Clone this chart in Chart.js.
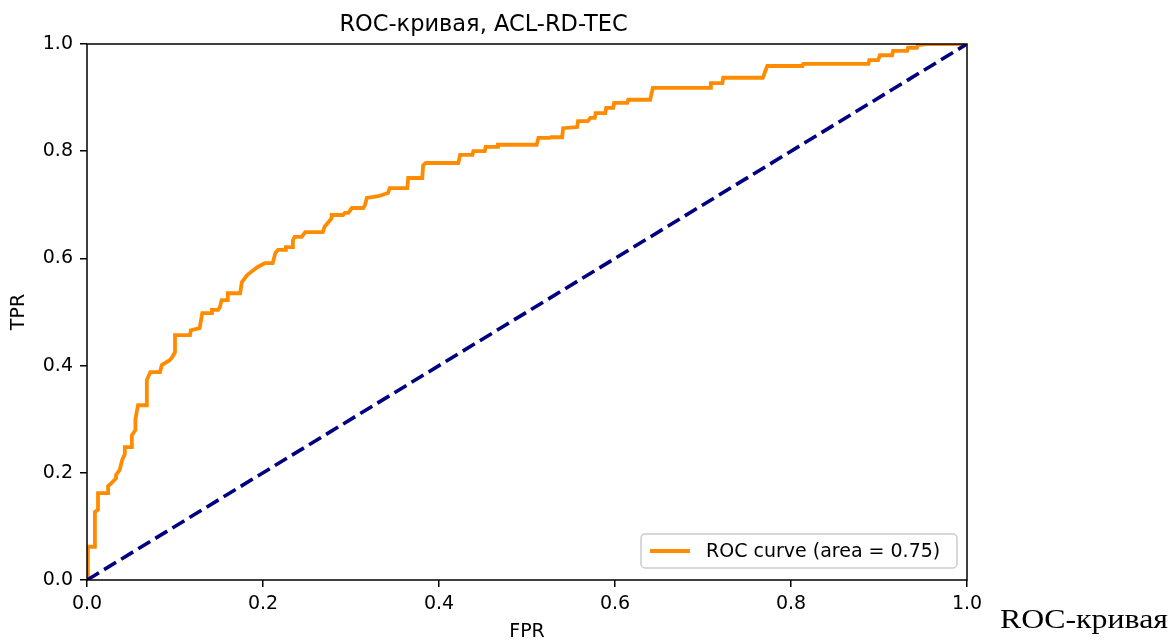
<!DOCTYPE html>
<html>
<head>
<meta charset="utf-8">
<title>ROC-кривая, ACL-RD-TEC</title>
<script src="https://cdn.jsdelivr.net/npm/chart.js@4.4.1/dist/chart.umd.min.js"></script>
<style>
  html, body { margin: 0; padding: 0; background: #fff; }
  #wrap { position: relative; width: 1175px; height: 644px; overflow: hidden; }
  #caption {
    position: absolute; left: 1000px; top: 604px;
    font-family: 'Liberation Serif', serif; font-size: 27px; color: #000;
    white-space: nowrap; transform-origin: left top; transform: scaleX(1.18);
  }
</style>
</head>
<body>
<div id="wrap">
  <canvas id="roc" width="1175" height="644"></canvas>
  <div id="caption">ROC-кривая</div>
</div>
<script>
// ROC curve corners
const fpr = [0, 0.001, 0.001, 0.009, 0.009, 0.0125, 0.0125, 0.024, 0.024, 0.028, 0.033, 0.033, 0.037, 0.040, 0.043, 0.043,
  0.051, 0.051, 0.055, 0.055, 0.058, 0.068, 0.068, 0.072, 0.083, 0.085, 0.094, 0.097, 0.100, 0.100, 0.117, 0.118,
  0.128, 0.131, 0.142, 0.142, 0.149, 0.151, 0.153, 0.160, 0.160, 0.174, 0.176, 0.182, 0.189, 0.194, 0.202, 0.211,
  0.214, 0.217, 0.225, 0.226, 0.233, 0.234, 0.236, 0.244, 0.248, 0.268, 0.270, 0.278, 0.278, 0.291, 0.293, 0.297,
  0.301, 0.314, 0.316, 0.318, 0.331, 0.342, 0.344, 0.364, 0.365, 0.381, 0.382, 0.385, 0.422, 0.424, 0.438, 0.439,
  0.452, 0.453, 0.466, 0.467, 0.511, 0.513, 0.526, 0.527, 0.540, 0.541, 0.557, 0.558, 0.569, 0.572, 0.577, 0.578,
  0.589, 0.590, 0.598, 0.599, 0.614, 0.615, 0.640, 0.643, 0.708, 0.709, 0.722, 0.723, 0.768, 0.773, 0.813, 0.814,
  0.888, 0.889, 0.899, 0.901, 0.915, 0.916, 0.932, 0.933, 0.943, 0.944, 0.955, 1.0];
const tpr = [0, 0, 0.062, 0.062, 0.127, 0.131, 0.162, 0.162, 0.175, 0.181, 0.190, 0.196, 0.205, 0.224, 0.235, 0.248,
  0.248, 0.270, 0.280, 0.300, 0.326, 0.326, 0.373, 0.388, 0.388, 0.401, 0.410, 0.416, 0.425, 0.457, 0.457, 0.466,
  0.470, 0.498, 0.498, 0.504, 0.504, 0.509, 0.522, 0.522, 0.535, 0.535, 0.556, 0.569, 0.578, 0.584, 0.591, 0.591,
  0.610, 0.616, 0.616, 0.621, 0.621, 0.634, 0.640, 0.640, 0.649, 0.649, 0.659, 0.675, 0.681, 0.681, 0.685, 0.685,
  0.694, 0.694, 0.700, 0.713, 0.716, 0.722, 0.731, 0.731, 0.750, 0.750, 0.774, 0.778, 0.778, 0.793, 0.793, 0.800,
  0.800, 0.808, 0.808, 0.812, 0.812, 0.825, 0.825, 0.826, 0.826, 0.843, 0.845, 0.856, 0.856, 0.862, 0.862, 0.871,
  0.871, 0.881, 0.881, 0.890, 0.890, 0.896, 0.896, 0.918, 0.918, 0.927, 0.927, 0.937, 0.937, 0.959, 0.959, 0.963,
  0.963, 0.970, 0.970, 0.979, 0.979, 0.987, 0.987, 0.993, 0.993, 0.998, 1.0, 1.0];

// chance line
const diagX = [0, 1];
const diagY = [0, 1];

const rocLabel = 'ROC curve (area = 0.75)';
const font = 'DejaVu Sans';

function toPoints(xs, ys) {
  return xs.map((x, i) => ({ x, y: ys[i] }));
}

// box round the axes + legend in lower right, like matplotlib
const framePlugin = {
  id: 'frame',
  afterDatasetsDraw(chart) {
    const { ctx, chartArea: a } = chart;
    ctx.save();
    ctx.strokeStyle = '#000';
    ctx.lineWidth = 1.5;
    ctx.strokeRect(a.left, a.top, a.right - a.left, a.bottom - a.top);

    const ds = chart.data.datasets.find(d => d.label === rocLabel);
    const bx = 641, by = 534, bw = 316, bh = 34;
    ctx.fillStyle = 'rgba(255,255,255,0.8)';
    ctx.strokeStyle = '#cccccc';
    ctx.lineWidth = 1.5;
    ctx.beginPath();
    ctx.roundRect(bx, by, bw, bh, 4);
    ctx.fill();
    ctx.stroke();

    ctx.strokeStyle = ds.borderColor;
    ctx.lineWidth = ds.borderWidth;
    ctx.beginPath();
    ctx.moveTo(650, by + bh / 2);
    ctx.lineTo(690, by + bh / 2);
    ctx.stroke();

    ctx.fillStyle = '#000';
    ctx.font = '19px "' + font + '"';
    ctx.textBaseline = 'middle';
    ctx.textAlign = 'left';
    ctx.fillText(ds.label, 706, by + bh / 2 + 1);
    ctx.restore();
  }
};

const tickOpts = {
  color: '#000',
  font: { family: font, size: 19 },
  stepSize: 0.2,
  callback: v => v.toFixed(1)
};

new Chart(document.getElementById('roc'), {
  type: 'scatter',
  data: {
    datasets: [
      {
        label: 'chance',
        data: toPoints(diagX, diagY),
        showLine: true,
        borderColor: '#000080',
        borderWidth: 3.6,
        borderDash: [14, 6],
        pointRadius: 0,
        order: 0
      },
      {
        label: rocLabel,
        data: toPoints(fpr, tpr),
        showLine: true,
        borderColor: '#ff8c00',
        borderWidth: 3.8,
        pointRadius: 0,
        tension: 0,
        order: 1
      }
    ]
  },
  options: {
    responsive: false,
    animation: false,
    layout: { padding: { left: 0, right: 208, top: 0, bottom: 0 } },
    plugins: {
      legend: { display: false },
      tooltip: { enabled: false },
      title: {
        display: true,
        text: 'ROC-кривая, ACL-RD-TEC',
        color: '#000',
        font: { family: font, size: 22.5, weight: 'normal' },
        padding: { top: 12, bottom: 5 }
      }
    },
    scales: {
      x: {
        type: 'linear', min: 0, max: 1,
        border: { display: false },
        grid: { drawOnChartArea: false, drawTicks: true, tickLength: 7, color: '#000', lineWidth: 1.5 },
        ticks: { ...tickOpts, padding: 6, maxRotation: 0 },
        title: { display: true, text: 'FPR', color: '#000', font: { family: font, size: 19 }, padding: { top: 0, bottom: 1 } },
        afterFit: s => { s.height = 64; }
      },
      y: {
        type: 'linear', min: 0, max: 1,
        border: { display: false },
        grid: { drawOnChartArea: false, drawTicks: true, tickLength: 7, color: '#000', lineWidth: 1.5 },
        ticks: { ...tickOpts, padding: 7 },
        title: { display: true, text: 'TPR', color: '#000', font: { family: font, size: 19 }, padding: { top: 8, bottom: 0 } },
        afterFit: s => { s.width = 87; }
      }
    }
  },
  plugins: [framePlugin]
});
</script>
</body>
</html>
